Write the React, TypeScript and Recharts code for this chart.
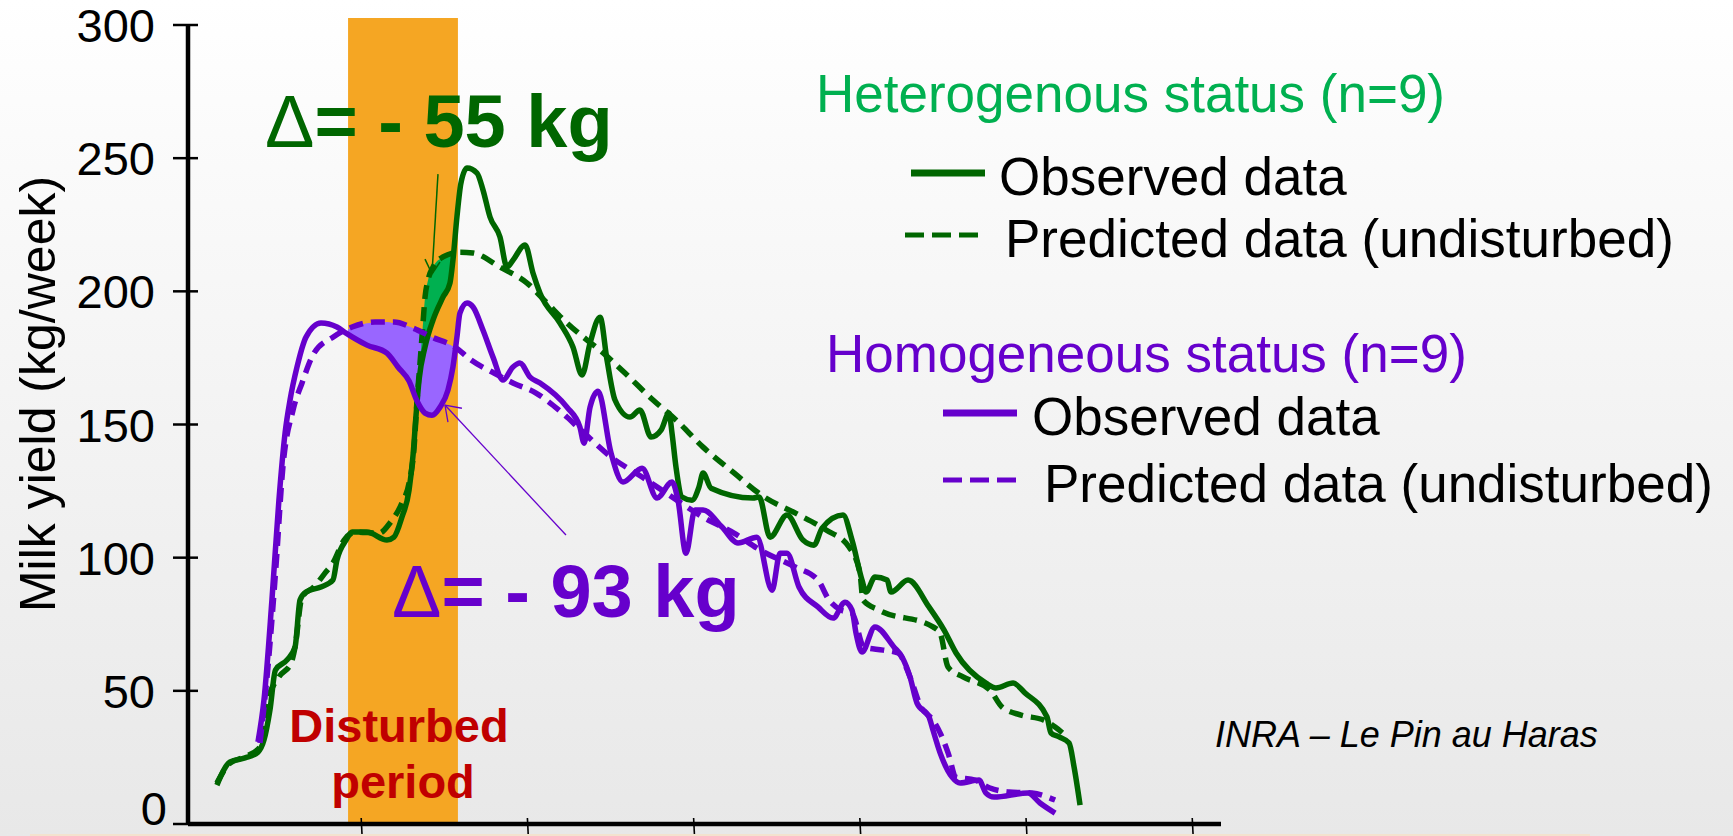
import {
  ComposedChart,
  Line,
  Area,
  XAxis,
  YAxis,
  ReferenceArea,
  ReferenceLine,
  Legend,
} from "recharts";

const FONT = "'Liberation Sans', Arial, Helvetica, sans-serif";
const DARK_GREEN = "#006600";
const LIGHT_GREEN = "#00B050";
const PURPLE = "#6600CC";
const LILAC = "#9966FF";
const ORANGE = "#F5A623";
const RED = "#C00000";

// x runs in lactation units, one axis tick every 10
const xTicks = [10, 20, 30, 40, 50, 60];
const yTicks = [0, 50, 100, 150, 200, 250, 300];
const disturbedPeriod = [9.21, 15.82];

// Heterogenous status, observed
const hetObserved: [number, number][] = [
  [1.32, 14.6], [2.11, 23.3], [3.01, 24.8], [3.79, 27.0], [4.15, 31.5], [4.51, 42.8],
  [4.84, 57.8], [5.54, 61.6], [6.02, 66.4], [6.32, 84.1], [6.68, 87.1], [7.58, 89.0],
  [8.3, 91.6], [8.54, 99.1], [9.09, 106.6], [9.45, 109.6], [10.35, 109.6], [11.55, 106.6],
  [11.97, 107.7], [12.45, 115.2], [12.88, 125.4], [13.12, 138.5], [13.3, 153.5], [13.48, 166.7],
  [13.84, 179.1], [14.32, 189.2], [14.92, 197.8], [15.34, 203.1], [15.52, 211.7], [15.76, 227.9],
  [16.0, 240.6], [16.37, 246.3], [16.97, 244.4], [17.33, 238.0], [17.75, 227.9], [18.35, 220.4],
  [18.77, 209.1], [19.13, 211.7], [19.86, 217.4], [20.34, 206.8], [20.76, 199.3], [21.96, 188.1],
  [22.74, 179.1], [23.29, 168.6], [23.77, 180.6], [24.37, 190.3], [24.79, 174.2], [25.27, 159.2],
  [26.17, 152.8], [26.77, 155.4], [27.44, 145.3], [28.04, 147.9], [28.52, 154.3], [28.7, 146.8],
  [28.94, 134.0], [29.3, 122.8], [29.9, 121.6], [30.32, 126.5], [30.57, 131.8], [31.05, 126.1],
  [33.57, 122.4], [33.94, 122.8], [34.6, 107.7], [35.62, 116.0], [36.58, 106.6], [37.24, 104.7],
  [37.73, 111.1], [38.99, 116.0], [39.53, 106.6], [40.13, 91.6], [40.37, 87.1], [40.91, 92.7],
  [41.64, 91.6], [41.88, 87.1], [42.9, 91.6], [44.16, 81.5], [45.07, 72.8], [45.79, 64.2],
  [47.59, 52.9], [48.19, 51.1], [49.22, 52.9], [49.94, 49.2], [51.26, 40.2], [51.5, 34.2],
  [51.99, 32.7], [52.59, 30.4], [52.89, 21.4], [53.25, 7.1],
];

// Heterogenous status, predicted (undisturbed)
const hetPredicted: [number, number][] = [
  [1.32, 15.4], [2.11, 22.9], [3.01, 25.2], [3.91, 28.9], [4.39, 46.5], [5.05, 55.2],
  [5.78, 60.4], [6.02, 66.4], [6.44, 85.2], [7.16, 89.0], [7.82, 94.2], [8.3, 98.0],
  [8.97, 106.6], [9.69, 109.6], [11.07, 109.2], [11.73, 113.0], [12.45, 120.5], [12.88, 128.0],
  [13.18, 141.2], [13.36, 159.2], [13.54, 173.1], [13.72, 188.1], [13.84, 197.8], [14.02, 204.2],
  [14.32, 209.1], [14.92, 212.9], [15.94, 214.7], [16.73, 214.4], [18.35, 209.1], [19.98, 203.1],
  [21.18, 195.6], [22.38, 188.1], [23.59, 181.7], [24.37, 177.9], [25.87, 169.3], [27.56, 159.2],
  [28.94, 151.7], [30.57, 141.5], [32.43, 131.8], [34.24, 122.8], [36.1, 116.8], [37.97, 110.4],
  [39.35, 104.0], [40.01, 94.2], [40.19, 84.1], [41.16, 80.3], [44.4, 74.0], [44.83, 71.7],
  [45.31, 58.9], [46.21, 55.2], [47.83, 50.3], [48.56, 43.9], [49.7, 40.9], [51.08, 39.0],
  [51.75, 36.4], [52.35, 33.4],
];

// Homogeneous status, observed
const homObserved: [number, number][] = [
  [3.79, 30.8], [4.15, 46.5], [4.63, 84.1], [5.05, 121.6], [5.42, 146.8], [5.72, 159.2],
  [6.14, 171.6], [6.68, 182.8], [7.58, 188.1], [8.54, 186.6], [9.09, 184.3], [10.35, 179.8],
  [11.55, 176.8], [12.21, 171.6], [12.88, 166.3], [13.36, 158.8], [13.84, 154.3], [14.26, 153.5],
  [14.74, 156.5], [15.22, 162.9], [15.52, 171.6], [15.76, 182.8], [15.94, 191.8], [16.37, 195.6],
  [16.73, 194.1], [17.33, 185.4], [17.93, 175.3], [18.53, 166.7], [19.13, 171.6], [19.55, 173.1],
  [20.16, 167.8], [20.76, 165.6], [22.38, 156.5], [23.16, 149.0], [23.41, 143.0], [23.77, 156.5],
  [24.25, 162.5], [25.03, 139.3], [25.75, 128.4], [26.9, 133.6], [27.8, 122.4], [28.7, 128.4],
  [29.06, 121.6], [29.54, 101.7], [30.08, 117.9], [30.57, 117.9], [31.71, 111.5], [32.67, 105.5],
  [33.81, 107.7], [34.72, 87.8], [35.2, 101.7], [35.62, 101.7], [36.34, 89.0], [37.48, 81.5],
  [38.39, 77.3], [39.11, 83.3], [39.53, 80.3], [39.77, 71.7], [40.13, 64.6], [40.91, 74.0],
  [42.06, 66.4], [42.54, 62.7], [43.02, 55.2], [43.44, 45.4], [44.16, 40.2], [44.4, 35.3],
  [44.83, 26.7], [45.55, 17.6], [46.03, 15.4], [47.17, 16.5], [47.59, 11.6], [48.07, 10.1],
  [50.12, 11.6], [50.84, 7.9], [51.75, 4.1],
];

// Homogeneous status, predicted (undisturbed)
const homPredicted: [number, number][] = [
  [3.91, 30.4], [4.39, 58.9], [4.87, 96.5], [5.29, 134.0], [5.9, 155.4], [6.44, 165.6],
  [7.16, 176.8], [8.3, 182.8], [9.45, 186.6], [10.83, 188.5], [11.97, 188.5], [13.12, 186.2],
  [14.26, 182.8], [15.64, 179.1], [16.61, 174.2], [17.99, 169.3], [19.13, 165.6], [20.52, 161.8],
  [21.9, 155.4], [23.23, 147.9], [25.03, 137.8], [26.9, 130.3], [28.7, 122.8], [30.57, 115.2],
  [32.43, 109.2], [33.99, 102.9], [36.1, 96.5], [37.48, 91.6], [38.15, 84.1], [38.87, 80.3],
  [39.53, 79.2], [40.25, 66.4], [41.4, 65.3], [42.3, 64.2], [43.02, 55.2], [43.68, 43.9],
  [44.4, 39.0], [44.83, 34.2], [45.31, 26.7], [45.79, 17.6], [46.93, 16.5], [47.83, 13.5],
  [48.98, 12.0], [50.36, 11.6], [51.75, 9.0],
];

// shaded losses: [x, observed, predicted]
const hetLoss: [number, number, number][] = [
  [13.36, 158.0, 159.2], [13.54, 168.8, 173.1], [13.72, 175.0, 188.1], [13.84, 179.1, 197.8],
  [14.02, 182.9, 204.2], [14.32, 189.2, 209.1], [14.92, 197.8, 212.9], [15.34, 203.1, 214.0],
  [15.52, 211.7, 214.3], [15.6, 214.4, 214.4],
];
const homLoss: [number, number, number][] = [
  [9.21, 184.0, 185.8], [10.35, 179.8, 188.0], [11.55, 176.8, 188.5], [12.21, 171.6, 187.6],
  [12.88, 166.3, 186.8], [13.36, 158.8, 185.6], [13.84, 154.3, 184.6], [14.26, 153.5, 182.8],
  [14.74, 156.5, 181.5], [15.22, 162.9, 180.2], [15.52, 171.6, 179.4], [15.7, 178.8, 179.0],
];

// annotation arrows, in data units: [from, to]
const hetArrow: [number, number][][] = [
  [[14.62, 244.0], [14.26, 206.5]],
  [[13.84, 212.1], [14.26, 206.5]],
  [[14.74, 211.0], [14.26, 206.5]],
];
const homArrow: [number, number][][] = [
  [[22.32, 108.5], [15.04, 157.3]],
  [[16.06, 156.1], [15.04, 157.3]],
  [[15.22, 150.9], [15.04, 157.3]],
];

const rows = (pts: [number, number][]) => pts.map(([x, y]) => ({ x, y }));
const bands = (pts: [number, number, number][]) => pts.map(([x, lo, hi]) => ({ x, range: [lo, hi] }));

const series = [
  { key: "hetObs", name: "Observed data", data: hetObserved, color: DARK_GREEN, dashed: false },
  { key: "hetPred", name: "Predicted data (undisturbed)", data: hetPredicted, color: DARK_GREEN, dashed: true },
  { key: "homObs", name: "Observed data", data: homObserved, color: PURPLE, dashed: false },
  { key: "homPred", name: "Predicted data (undisturbed)", data: homPredicted, color: PURPLE, dashed: true },
];

const legendGroups = [
  { title: "Heterogenous status (n=9)", color: LIGHT_GREEN, keys: ["hetObs", "hetPred"], tx: 36, ty: 72, lx: [131, 125], ix: [219, 225], iy: [155, 217] },
  { title: "Homogeneous status (n=9)", color: PURPLE, keys: ["homObs", "homPred"], tx: 46, ty: 332, lx: [163, 163], ix: [252, 264], iy: [395, 462] },
];

function renderLegend() {
  return (
    <svg width={953} height={480} style={{ overflow: "visible" }}>
      {legendGroups.map((g) => (
        <g key={g.title}>
          <text x={g.tx} y={g.ty} fontSize={53} fill={g.color} fontFamily={FONT}>
            {g.title}
          </text>
          {g.keys.map((k, i) => {
            const s = series.find((d) => d.key === k)!;
            const ly = g.iy[i] - 22;
            return (
              <g key={k}>
                <line
                  x1={g.lx[i]}
                  x2={g.lx[i] + 74}
                  y1={ly}
                  y2={ly}
                  stroke={s.color}
                  strokeWidth={s.dashed ? 5 : 7}
                  strokeDasharray={s.dashed ? "19 8" : undefined}
                />
                <text x={g.ix[i]} y={g.iy[i]} fontSize={53} fill="#000" fontFamily={FONT}>
                  {s.name}
                </text>
              </g>
            );
          })}
        </g>
      ))}
    </svg>
  );
}

function YTick(props: any) {
  const { x, y, payload } = props;
  // the zero label sits a little right and is kept inside the bottom edge
  const isZero = payload.value === 0;
  return (
    <g>
      <line x1={x - 15} x2={x + 10} y1={y} y2={y} stroke="#000" strokeWidth={2.5} />
      <text
        x={isZero ? x - 21 : x - 33}
        y={isZero ? Math.min(y + 17, 825) : y + 17}
        textAnchor="end"
        fontSize={47}
        fill="#000"
        fontFamily={FONT}
      >
        {payload.value}
      </text>
    </g>
  );
}

function XTick(props: any) {
  const { x, y } = props;
  return <line x1={x} x2={x + 1} y1={y - 6} y2={y + 14} stroke="#000" strokeWidth={1.6} />;
}

export default function App() {
  return (
    <div
      style={{
        position: "absolute",
        left: 0,
        top: 0,
        width: 1733,
        height: 836,
        overflow: "hidden",
        background: "linear-gradient(to bottom, #ffffff 0%, #fafafa 20%, #f1f1f1 60%, #e8e8e8 100%)",
        fontFamily: FONT,
      }}
    >
      <ComposedChart
        width={1733}
        height={836}
        margin={{ top: 25, right: 512, bottom: 0, left: 0 }}
      >
        <ReferenceArea
          x1={disturbedPeriod[0]}
          x2={disturbedPeriod[1]}
          y1={0}
          y2={302.6}
          fill={ORANGE}
          fillOpacity={1}
          stroke="none"
          ifOverflow="visible"
        />
        <XAxis
          type="number"
          dataKey="x"
          domain={[-0.42, 61.73]}
          ticks={xTicks}
          allowDataOverflow
          height={12}
          tick={<XTick />}
          tickSize={0}
          tickMargin={0}
          tickLine={false}
          axisLine={{ stroke: "#000", strokeWidth: 4.5 }}
        />
        <YAxis
          type="number"
          domain={[0, 300]}
          ticks={yTicks}
          width={188}
          tickSize={0}
          tickMargin={0}
          tickLine={false}
          tick={<YTick />}
          axisLine={{ stroke: "#000", strokeWidth: 4.5 }}
        />
        <Area
          data={bands(homLoss)}
          dataKey="range"
          type="monotone"
          stroke="none"
          fill={LILAC}
          fillOpacity={1}
          legendType="none"
          isAnimationActive={false}
        />
        <Area
          data={bands(hetLoss)}
          dataKey="range"
          type="monotone"
          stroke="none"
          fill={LIGHT_GREEN}
          fillOpacity={1}
          legendType="none"
          isAnimationActive={false}
        />
        {series.map((s) => (
          <Line
            key={s.key}
            data={rows(s.data)}
            dataKey="y"
            name={s.name}
            type="monotone"
            stroke={s.color}
            strokeWidth={5.5}
            strokeDasharray={s.dashed ? "14 8" : undefined}
            strokeLinejoin="round"
            dot={false}
            activeDot={false}
            isAnimationActive={false}
          />
        ))}
        {hetArrow.map((seg, i) => (
          <ReferenceLine
            key={`ha${i}`}
            segment={seg.map(([x, y]) => ({ x, y }))}
            stroke={DARK_GREEN}
            strokeWidth={1.5}
            ifOverflow="visible"
          />
        ))}
        {homArrow.map((seg, i) => (
          <ReferenceLine
            key={`hm${i}`}
            segment={seg.map(([x, y]) => ({ x, y }))}
            stroke={PURPLE}
            strokeWidth={1.3}
            ifOverflow="visible"
          />
        ))}
        <Legend
          layout="horizontal"
          verticalAlign="middle"
          align="center"
          wrapperStyle={{ left: 780, top: 40, width: 953, height: 480 }}
          content={renderLegend}
        />
      </ComposedChart>

      <svg
        width={1733}
        height={836}
        style={{ position: "absolute", left: 0, top: 0, pointerEvents: "none" }}
      >
        <text
          x={55}
          y={394}
          transform="rotate(-90 55 394)"
          textAnchor="middle"
          fontSize={50}
          fill="#000"
          fontFamily={FONT}
        >
          Milk yield (kg/week)
        </text>
        <text x={265} y={147} fontSize={74} fontWeight="bold" fill={DARK_GREEN} fontFamily={FONT}>
          <tspan fontWeight="normal">Δ</tspan>= - 55 kg
        </text>
        <text x={392} y={617} fontSize={74} fontWeight="bold" fill={PURPLE} fontFamily={FONT}>
          <tspan fontWeight="normal">Δ</tspan>= - 93 kg
        </text>
        <text x={399} y={742} textAnchor="middle" fontSize={47} fontWeight="bold" fill={RED} fontFamily={FONT}>
          Disturbed
        </text>
        <text x={403} y={798} textAnchor="middle" fontSize={47} fontWeight="bold" fill={RED} fontFamily={FONT}>
          period
        </text>
        <text x={1215} y={747} fontSize={36} fontStyle="italic" fill="#000" fontFamily={FONT}>
          INRA – Le Pin au Haras
        </text>
        <rect x={30} y={834} width={1560} height={2} fill="#f3e3cf" />
      </svg>
    </div>
  );
}
